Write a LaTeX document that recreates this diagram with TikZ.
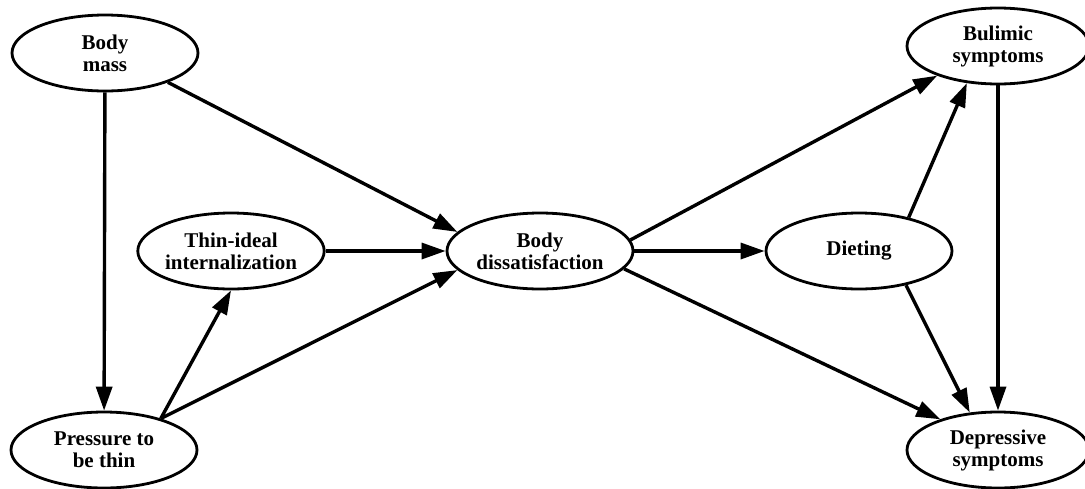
\documentclass[tikz,border=0pt]{standalone}
\usepackage{fontspec}
\setmainfont{Liberation Serif}
\usetikzlibrary{shapes.geometric,arrows.meta}
\begin{document}
\begin{tikzpicture}[x=1pt,y=-1pt,
  var/.style={ellipse, draw, line width=2.8pt, minimum width=186pt, minimum height=76pt,
    inner sep=0pt, align=center, font=\fontsize{21}{22}\selectfont\bfseries},
  arr/.style={line width=3.4pt, -{Triangle[length=24pt,width=16pt]}}]
\useasboundingbox (0,0) rectangle (1085,488);
\node[var] (bm) at (105,53) {Body\\mass};
\node[var] (pr) at (104,450) {Pressure to\\be thin};
\node[var] (ti) at (231,251) {Thin-ideal\\internalization};
\node[var] (bd) at (540,251) {Body\\dissatisfaction};
\node[var] (di) at (859,251) {Dieting};
\node[var, minimum width=182pt] (bu) at (998,46) {Bulimic\\symptoms};
\node[var, minimum width=182pt] (de) at (998,450) {Depressive\\symptoms};

\draw[arr] (bm) -- (pr);
\draw[arr] (bm.-25) -- (bd.167);
\draw[arr] (ti) -- (bd);
\draw[arr] (pr.29) -- (ti.south);
\draw[arr] (pr.29) -- (bd.193);
\draw[arr] (bd.7) -- (bu.206);
\draw[arr] (bd) -- (di);
\draw[arr] (bd.-12) -- (de.152);
\draw[arr] (di.34) -- (bu.230);
\draw[arr] (di.-36) -- (de.127);
\draw[arr] (bu) -- (de);
\end{tikzpicture}
\end{document}
